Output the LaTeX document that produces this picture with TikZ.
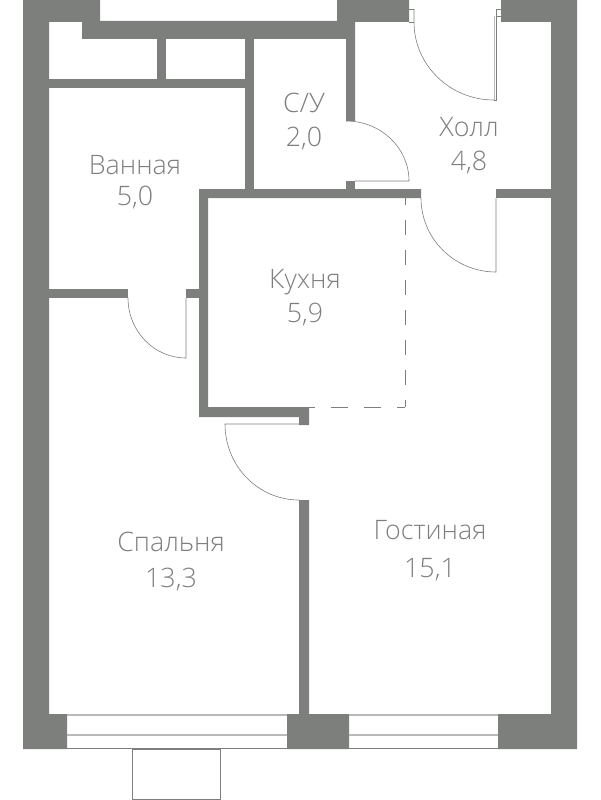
\documentclass[tikz,border=0pt]{standalone}
\usepackage{fontspec}
\setmainfont{Open Sans Light}
\usepackage{tikz}
\usetikzlibrary{positioning}
\definecolor{wallgray}{HTML}{7D7F7D}
\definecolor{glassgray}{HTML}{B9B9B9}
\tikzset{
  wall/.style={fill=wallgray,draw=none},
  door/.style={draw=wallgray,line width=0.6pt},
  glass/.style={draw=glassgray,line width=1.4pt},
  room/.style={text=wallgray,font=\fontsize{26.8}{31}\selectfont,align=center,inner sep=0pt}
}
\begin{document}
\begin{tikzpicture}[x=1pt,y=-1pt]
\useasboundingbox (0,0) rectangle (600,800);
% walls
\fill[wall] (23,0) -- (100,0) -- (100,22) -- (49,22) -- (49,714) -- (67,714) -- (67,749) -- (23,749) -- cycle;
\fill[wall] (82,21) -- (337,21) -- (337,0) -- (409,0) -- (409,22) -- (355,22) -- (355,121) -- (346,121)
  -- (346,39) -- (82,39) -- cycle;
\fill[wall] (245,39) rectangle (254,189);
\fill[wall] (157,39) rectangle (166,79);
\fill[wall] (49,79) rectangle (245,88);
\fill[wall] (49,289) rectangle (128,298);
\fill[wall] (199,189) -- (421,189) -- (421,198) -- (208,198) -- (208,407)
  -- (309,407) -- (309,425) -- (299,425) -- (299,417) -- (199,417) -- cycle;
\fill[wall] (346,181) rectangle (355,189);
\fill[wall] (186,289) rectangle (199,298);
\fill[wall] (496,189) rectangle (552,198);
\fill[wall] (299,500) -- (309,500) -- (309,714) -- (349,714) -- (349,749) -- (287,749) -- (287,714) -- (299,714) -- cycle;
\fill[wall] (501,0) -- (577,0) -- (577,749) -- (498,749) -- (498,714) -- (551,714) -- (551,22) -- (501,22) -- cycle;
% doors
\draw[door] (186,298) -- (186,358) arc[start angle=90,end angle=180,x radius=58,y radius=60];
\draw[door] (299,424) -- (225,424) arc[start angle=180,end angle=90,x radius=74,y radius=76];
\draw[door] (355,181) -- (409,181) arc[start angle=0,end angle=-90,x radius=63,y radius=60];
\draw[door] (496,198) -- (496,272) arc[start angle=90,end angle=180,x radius=75,y radius=74];
\draw[door] (414,9) -- (414,22) arc[start angle=180,end angle=90,x radius=80,y radius=78];
\draw[door] (409,9) -- (414,9);
\draw[door] (409,22) -- (414,22);
\draw[door] (496,16) -- (496,9) -- (501,9);
\draw[door] (496,16) -- (501,16);
\draw[glass] (494.5,16) -- (494.5,100);
\draw[door] (496,16) -- (496,100) -- (494,100);
% kitchen opening
\draw[door,line width=0.9pt,dash pattern=on 15pt off 15pt,dash phase=8pt] (405,198) -- (405,407);
\draw[door,line width=0.9pt,dash pattern=on 17pt off 16pt,dash phase=9pt] (405,407) -- (309,407);
% windows
\draw[glass] (67,715) -- (287,715);
\draw[glass] (67,735) -- (287,735);
\draw[glass] (349,715) -- (498,715);
\draw[glass] (349,735) -- (498,735);
\draw[door,line width=0.9pt] (67,748.5) -- (287,748.5);
\draw[door,line width=0.9pt] (349,748.5) -- (498,748.5);
\draw[door,line width=0.9pt] (132,749) rectangle (220,799);
% rooms
\node[room] (vannaya) at (135,182) {Ванная\\5,0};
\node[room] (su) at (304,122) {С/У\\[3pt]2,0};
\node[room] (holl) at (469,146) {Холл\\[3pt]4,8};
\node[room] (kuhnya) at (305,298) {Кухня\\[3pt]5,9};
\node[room] (spalnya) at (171,562) {Спальня\\[5pt]13,3};
\node[room] (gostinaya) at (430,551) {Гостиная\\[7pt]15,1};
\end{tikzpicture}
\end{document}
